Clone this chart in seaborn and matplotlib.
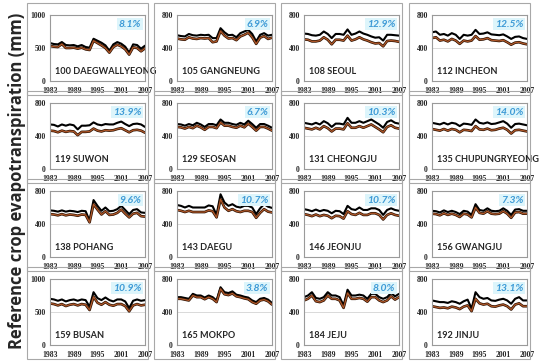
import numpy as np
import pandas as pd
import seaborn as sns
import matplotlib
matplotlib.use("Agg")
import matplotlib.pyplot as plt
from matplotlib.patches import Rectangle
from matplotlib import font_manager

years = list(range(1983, 2008))
stations = ["100 DAEGWALLYEONG", "105 GANGNEUNG", "108 SEOUL", "112 INCHEON",
            "119 SUWON", "129 SEOSAN", "131 CHEONGJU", "135 CHUPUNGRYEONG",
            "138 POHANG", "143 DAEGU", "146 JEONJU", "156 GWANGJU",
            "159 BUSAN", "165 MOKPO", "184 JEJU", "192 JINJU"]
percents = ["8.1%", "6.9%", "12.9%", "12.5%", "13.9%", "6.7%", "10.3%", "14.0%",
            "9.6%", "10.7%", "10.7%", "7.3%", "10.9%", "3.8%", "8.0%", "13.1%"]
ymax = [1000, 800, 800, 800, 800, 800, 800, 800, 800, 800, 800, 800, 1000, 800, 800, 800]
xticks = [1983, 1989, 1995, 2001, 2007]

black_vals = [
    [575, 560, 555, 590, 545, 540, 545, 525, 545, 515, 505, 640, 610, 580, 540, 460, 555, 590, 565, 520, 430, 555, 545, 490, 535],
    [555, 545, 540, 570, 555, 550, 560, 555, 560, 520, 520, 640, 590, 555, 560, 530, 580, 600, 620, 570, 480, 560, 580, 550, 560],
    [575, 570, 555, 550, 560, 600, 570, 520, 570, 570, 560, 625, 560, 575, 600, 575, 560, 540, 525, 530, 490, 560, 560, 555, 550],
    [590, 600, 560, 570, 550, 580, 560, 510, 560, 550, 560, 620, 570, 575, 590, 565, 560, 555, 565, 540, 510, 535, 540, 520, 510],
    [540, 535, 515, 540, 525, 540, 530, 480, 525, 525, 530, 565, 540, 530, 545, 540, 540, 560, 575, 545, 520, 545, 550, 540, 510],
    [545, 540, 525, 545, 530, 560, 540, 510, 545, 545, 530, 600, 560, 560, 545, 535, 560, 540, 585, 545, 500, 545, 545, 525, 500],
    [560, 550, 540, 560, 540, 580, 555, 510, 550, 550, 540, 620, 560, 560, 580, 560, 580, 600, 570, 540, 500, 570, 590, 560, 550],
    [560, 550, 540, 560, 540, 560, 550, 520, 550, 545, 535, 600, 560, 550, 565, 545, 550, 565, 580, 550, 500, 545, 550, 540, 530],
    [565, 560, 550, 565, 550, 560, 555, 545, 560, 555, 440, 690, 620, 560, 600, 555, 560, 580, 620, 570, 520, 570, 580, 540, 535],
    [630, 620, 600, 620, 600, 600, 600, 600, 625, 615, 510, 760, 660, 620, 640, 610, 600, 620, 620, 600, 520, 590, 640, 610, 595],
    [580, 570, 555, 575, 555, 570, 560, 530, 560, 555, 520, 620, 580, 570, 600, 570, 570, 590, 590, 570, 510, 570, 590, 570, 560],
    [560, 555, 540, 565, 545, 560, 545, 520, 560, 550, 510, 640, 570, 560, 590, 560, 555, 560, 590, 560, 510, 575, 580, 560, 560],
    [700, 690, 670, 690, 660, 680, 690, 670, 690, 680, 580, 800, 710, 680, 720, 680, 660, 690, 690, 660, 560, 670, 690, 670, 680],
    [580, 580, 570, 560, 620, 600, 600, 575, 600, 580, 540, 700, 640, 630, 650, 610, 600, 585, 575, 540, 520, 560, 570, 550, 510],
    [580, 600, 640, 570, 560, 580, 640, 600, 600, 580, 480, 670, 600, 600, 610, 600, 560, 620, 620, 580, 560, 580, 630, 590, 620],
    [540, 530, 520, 520, 510, 530, 520, 500, 530, 550, 440, 640, 580, 560, 570, 540, 535, 550, 560, 540, 500, 560, 580, 540, 540],
]
brown_vals = [
    [530, 520, 515, 560, 500, 500, 505, 490, 505, 480, 470, 610, 575, 540, 500, 430, 515, 550, 525, 480, 400, 510, 500, 450, 495],
    [515, 505, 500, 530, 515, 510, 520, 515, 520, 470, 480, 605, 550, 515, 520, 495, 540, 560, 585, 530, 450, 525, 545, 510, 525],
    [505, 500, 480, 480, 490, 530, 500, 445, 500, 500, 490, 550, 490, 505, 530, 505, 490, 470, 455, 460, 420, 485, 490, 485, 475],
    [520, 530, 490, 500, 480, 510, 490, 450, 490, 480, 490, 545, 500, 505, 520, 495, 490, 485, 495, 470, 440, 465, 470, 455, 445],
    [465, 460, 445, 465, 450, 460, 455, 410, 450, 450, 455, 490, 465, 455, 470, 465, 470, 485, 495, 470, 445, 470, 475, 465, 440],
    [510, 505, 490, 510, 495, 525, 505, 475, 510, 510, 495, 565, 525, 525, 510, 500, 525, 505, 550, 510, 465, 510, 510, 490, 465],
    [500, 490, 480, 500, 480, 520, 495, 455, 490, 490, 480, 555, 500, 500, 520, 500, 520, 540, 510, 480, 445, 510, 530, 500, 490],
    [485, 475, 465, 485, 465, 485, 475, 445, 475, 470, 460, 520, 480, 475, 490, 470, 475, 490, 500, 475, 430, 470, 475, 465, 455],
    [520, 515, 505, 520, 505, 515, 510, 500, 515, 510, 420, 640, 575, 515, 555, 510, 515, 535, 575, 525, 480, 525, 535, 495, 490],
    [570, 560, 545, 560, 545, 545, 545, 545, 565, 555, 480, 700, 600, 560, 580, 555, 545, 560, 560, 545, 475, 535, 580, 550, 540],
    [520, 510, 495, 515, 495, 510, 500, 470, 500, 495, 465, 555, 520, 510, 535, 510, 510, 530, 530, 510, 455, 510, 530, 510, 500],
    [525, 520, 505, 530, 510, 525, 510, 485, 525, 515, 480, 600, 535, 525, 555, 525, 520, 525, 555, 525, 475, 540, 545, 525, 525],
    [630, 620, 600, 620, 590, 610, 620, 600, 620, 610, 530, 730, 640, 610, 650, 610, 595, 620, 620, 590, 510, 600, 620, 600, 610],
    [560, 560, 550, 540, 600, 580, 580, 555, 580, 560, 520, 680, 615, 605, 625, 590, 580, 565, 555, 520, 500, 540, 550, 530, 490],
    [540, 560, 600, 530, 520, 540, 600, 560, 560, 540, 450, 630, 560, 560, 570, 560, 525, 580, 580, 540, 520, 540, 590, 550, 580],
    [470, 460, 450, 455, 445, 465, 455, 435, 465, 480, 410, 560, 505, 490, 500, 470, 465, 480, 490, 470, 430, 490, 505, 470, 470],
]

sns.set_style("white")
plt.rcParams['font.family'] = ['DejaVu Sans']

avail = {f.name for f in font_manager.fontManager.ttflist}
label_font = 'Liberation Sans Narrow' if 'Liberation Sans Narrow' in avail else 'Lato'
label_size = 8 if label_font == 'Liberation Sans Narrow' else 6.6

W, H = 550, 362
fig = plt.figure(figsize=(5.5, 3.62), dpi=100)

col_left = [50, 177, 304, 432]
row_top = [15, 103, 191, 279]
aw, ah = 95, 66

for i, name in enumerate(stations):
    r, c = divmod(i, 4)
    x0, y0 = col_left[c], row_top[r]
    fig.add_artist(Rectangle(((x0 - 23) / W, 1 - (y0 + 80) / H), 121 / W, 92 / H,
                             transform=fig.transFigure, fill=False,
                             ec='#a8a8a8', lw=0.8))
    ax = fig.add_axes([x0 / W, 1 - (y0 + ah) / H, aw / W, ah / H])
    df = pd.DataFrame({"year": years * 2,
                       "ET": black_vals[i] + brown_vals[i],
                       "series": ["black"] * 25 + ["brown"] * 25})
    sns.lineplot(data=df[df.series == "black"], x="year", y="ET", ax=ax,
                 color='black', lw=1.5, legend=False)
    sns.lineplot(data=df[df.series == "brown"], x="year", y="ET", ax=ax,
                 color='#2a1000', lw=1.9, legend=False)
    sns.lineplot(data=df[df.series == "brown"], x="year", y="ET", ax=ax,
                 color='#b0582a', lw=0.9, legend=False)
    ym = ymax[i]
    ax.set_ylim(0, ym)
    ax.set_xlim(1983, 2007)
    ax.set_yticks([0, ym / 2, ym])
    ax.set_yticklabels([0, int(ym / 2), ym])
    ax.set_xticks(xticks)
    ax.axhline(ym / 2, color='#d9d9d9', lw=0.7, zorder=0)
    ax.set_xlabel("")
    ax.set_ylabel("")
    ax.tick_params(axis='y', length=0, pad=3, labelsize=5.5)
    ax.tick_params(axis='x', length=0, pad=4, labelsize=5.5)
    for lab in ax.get_xticklabels() + ax.get_yticklabels():
        lab.set_fontfamily('Liberation Serif')
        lab.set_fontweight('bold')
    for sp in ax.spines.values():
        sp.set_color('#9a9a9a')
        sp.set_linewidth(0.8)
    ax.text(0.05, 0.08, name, transform=ax.transAxes, fontsize=label_size,
            fontweight='bold', family=label_font, ha='left', va='bottom')
    ax.text(0.96, 0.86, percents[i], transform=ax.transAxes, fontsize=7.5,
            fontweight='bold', style='italic', color='#3d9ad6', family='Lato',
            ha='right', va='center',
            bbox=dict(boxstyle='square,pad=0.15', fc='#ddf5fb', ec='none'))

fig.text(17 / W, 0.5, "Reference crop evapotranspiration (mm)", rotation=90,
         ha='center', va='center', fontsize=12, fontweight='bold',
         family='Open Sans')

fig.savefig("out.png", dpi=100)
